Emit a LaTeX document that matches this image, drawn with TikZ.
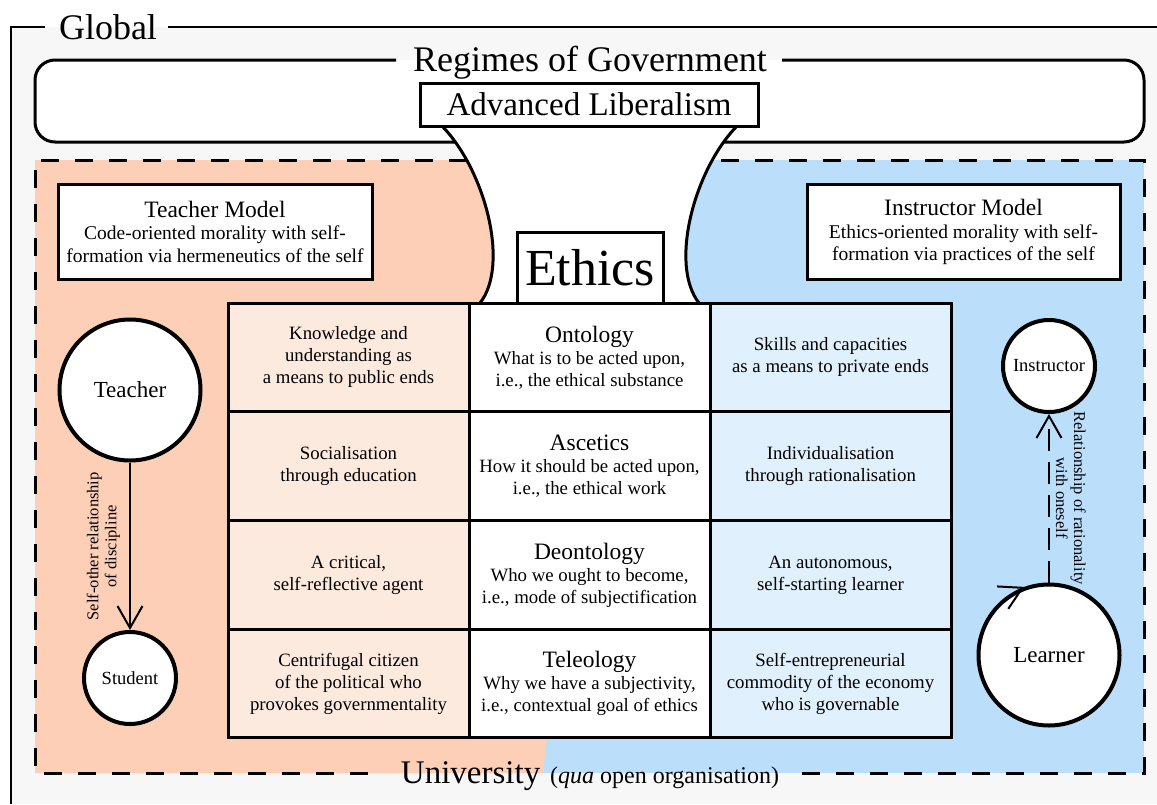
\documentclass[tikz,border=0pt]{standalone}
\usepackage{fontspec}
\setmainfont{Liberation Serif}
\usetikzlibrary{arrows.meta,calc}

\definecolor{bggray}{HTML}{F7F7F7}
\definecolor{salmon}{HTML}{FDCFB6}
\definecolor{sky}{HTML}{BBDEFB}
\definecolor{salmonlt}{HTML}{FDEADF}
\definecolor{skylt}{HTML}{E1F0FD}

\newcommand{\bigfont}{\fontsize{36}{40}\selectfont}
\newcommand{\headfont}{\fontsize{23.5}{26}\selectfont}
\newcommand{\subfont}{\fontsize{19.5}{22.5}\selectfont}
\newcommand{\cellfont}{\fontsize{18.8}{22}\selectfont}
\newcommand{\notefont}{\fontsize{16.5}{18}\selectfont}

\begin{document}
\begin{tikzpicture}[x=1pt,y=-1pt,
  box/.style={draw, line width=3pt, fill=white, inner sep=0pt},
  cell/.style={draw, line width=3pt, minimum width=241pt, minimum height=108.75pt,
    inner sep=0pt, align=center, font=\cellfont},
  person/.style={circle, draw, line width=4pt, fill=white, inner sep=0pt},
  link/.style={line width=2pt, -{Straight Barb[length=22pt,width=25pt]}},
  zone/.style={line width=3pt, dash pattern=on 18pt off 16pt}]
\useasboundingbox (0,0) rectangle (1157,804);
\fill[white] (0,0) rectangle (1157,804);

% global frame
\fill[bggray] (11,27) rectangle (1157,804);
\node[font=\bigfont, anchor=base] (global) at (108,39.5) {Global};
\draw[line width=2pt] (45,27) -- (11,27) -- (11,804);
\draw[line width=2pt] (168,27) -- (1157,27);

% regimes of government
\fill[white, rounded corners=20pt] (35,60) rectangle (1144,142);
\draw[line width=3pt, rounded corners=20pt] (396,60) -- (35,60) -- (35,142) -- (1144,142) -- (1144,60) -- (782,60);
\node[font=\bigfont, anchor=base] (regimes) at (590,71) {Regimes of Government};

% university zone
\fill[sky] (35,160) rectangle (1144,773);
\fill[salmon] (35,160) -- (560,160) -- (560,303) -- (547,738) -- (543,773) -- (35,773) -- cycle;
\draw[zone] (802,773) -- (1144,773) -- (1144,160) -- (35,160) -- (35,773) -- (368,773);

% funnel down to ethics
\fill[white] (442,126) .. controls (485,170) and (510,265) .. (480,303) -- (699,303)
  .. controls (669,265) and (694,170) .. (737,126) -- cycle;
\draw[line width=3pt] (442,126) .. controls (485,170) and (510,265) .. (480,303);
\draw[line width=3pt] (737,126) .. controls (694,170) and (669,265) .. (699,303);

\node[box, minimum width=338pt, minimum height=43pt, font=\fontsize{33}{36}\selectfont] (liberal) at (589,104.5) {Advanced Liberalism};
\node[box, minimum width=146pt, minimum height=71pt, font=\fontsize{52}{56}\selectfont] (ethics) at (590,267.5) {Ethics};

\node[box, minimum width=314pt, minimum height=95pt, align=center, font=\subfont] (tmodel) at (215,231.5)
  {{\headfont Teacher Model}\\Code-oriented morality with self-\\formation via hermeneutics of the self};
\node[box, minimum width=313pt, minimum height=95pt, align=center, font=\subfont] (imodel) at (963.5,232)
  {{\headfont Instructor Model}\\Ethics-oriented morality with self-\\formation via practices of the self};

% table
\node[cell, fill=salmonlt] (know) at (348.5,357.4) {Knowledge and\\understanding as\\a means to public ends};
\node[cell, fill=white] (onto) at (589.5,357.4) {{\headfont Ontology}\\What is to be acted upon,\\i.e., the ethical substance};
\node[cell, fill=skylt] (skill) at (830.5,357.4) {Skills and capacities\\as a means to private ends};
\node[cell, fill=salmonlt] (social) at (348.5,466.1) {Socialisation\\through education};
\node[cell, fill=white] (ascet) at (589.5,466.1) {{\headfont Ascetics}\\How it should be acted upon,\\i.e., the ethical work};
\node[cell, fill=skylt] (indiv) at (830.5,466.1) {Individualisation\\through rationalisation};
\node[cell, fill=salmonlt] (critic) at (348.5,574.9) {A critical,\\self-reflective agent};
\node[cell, fill=white] (deont) at (589.5,574.9) {{\headfont Deontology}\\Who we ought to become,\\i.e., mode of subjectification};
\node[cell, fill=skylt] (auton) at (830.5,574.9) {An autonomous,\\self-starting learner};
\node[cell, fill=salmonlt] (citizen) at (348.5,683.6) {Centrifugal citizen\\of the political who\\provokes governmentality};
\node[cell, fill=white] (teleo) at (589.5,683.6) {{\headfont Teleology}\\Why we have a subjectivity,\\i.e., contextual goal of ethics};
\node[cell, fill=skylt] (entre) at (830.5,683.6) {Self-entrepreneurial\\commodity of the economy\\who is governable};

% people
\node[person, minimum size=141pt, font=\fontsize{23}{26}\selectfont] (teacher) at (130,390) {Teacher};
\node[person, minimum size=92pt, font=\fontsize{18.5}{21}\selectfont] (student) at (130,678) {Student};
\node[person, minimum size=92pt, font=\fontsize{18.5}{21}\selectfont] (instructor) at (1049,366) {Instructor};
\node[person, minimum size=141pt, font=\fontsize{23}{26}\selectfont] (learner) at (1049,655) {Learner};

\draw[link] (teacher) -- (student)
  node[midway, rotate=90, anchor=south, inner sep=9pt, align=center, font=\notefont] (discipline)
  {Self-other relationship\\of discipline};
\draw[link, dash pattern=on 22pt off 11pt] (learner) -- (instructor)
  node[midway, rotate=-90, anchor=south, inner sep=6pt, align=center, font=\notefont] (oneself)
  {Relationship of rationality\\with oneself};
\draw[link] ($(learner.110)+(-3,1.5)$) -- (learner.110);

\node[font=\fontsize{33}{36}\selectfont, anchor=base] (univ) at (590,783)
  {University\hspace{10pt}{\fontsize{24}{28}\selectfont(\textit{qua} open organisation)}};
\end{tikzpicture}
\end{document}
